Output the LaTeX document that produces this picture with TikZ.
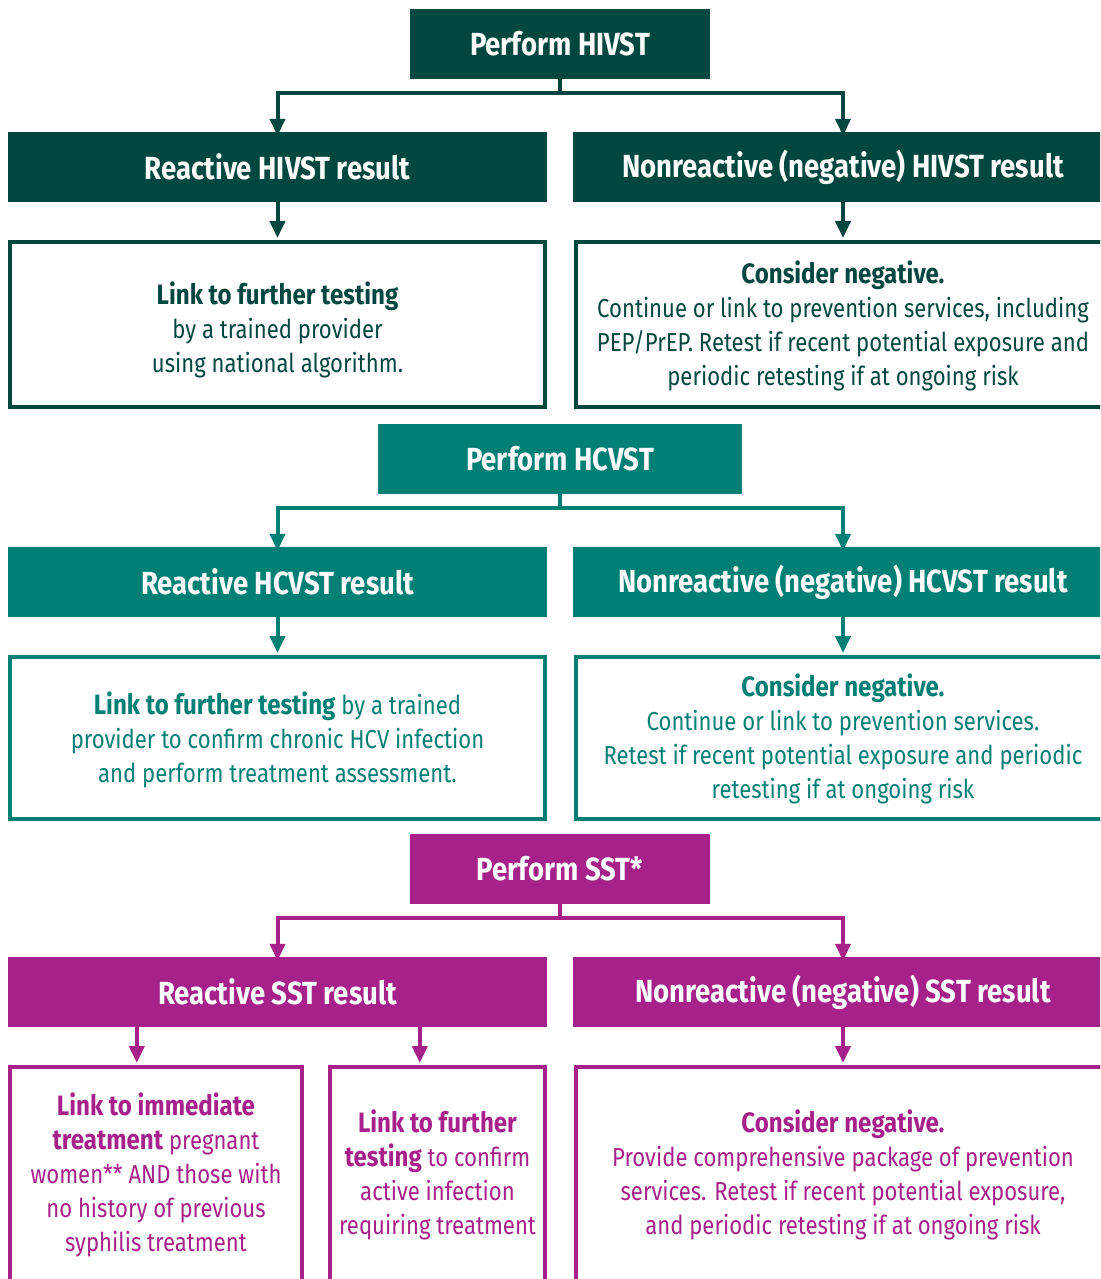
\documentclass[tikz,border=0pt]{standalone}
\usepackage{fontspec}
\setmainfont{Fira Sans}[FakeStretch=0.85,BoldFeatures={FakeStretch=0.86}]
\usetikzlibrary{arrows.meta,calc}
\definecolor{cA}{HTML}{00473F}
\definecolor{cB}{HTML}{007F75}
\definecolor{cC}{HTML}{A6218A}
\newcommand{\bb}[1]{{\fontsize{28}{34}\selectfont\bfseries #1}}
\begin{document}
\begin{tikzpicture}[x=1pt,y=-1pt,
  hdr/.style={fill=#1,text=white,font=\fontsize{32}{36}\selectfont\bfseries,minimum height=70pt,inner sep=0pt},
  obox/.style={draw=#1,line width=4pt,text=#1,font=\fontsize{26}{34}\selectfont,align=center,inner sep=0pt},
  conn/.style={draw=#1,line width=4pt},
  arr/.style={draw=#1,line width=4pt,-{Triangle[length=17pt,width=15pt]},shorten >=2pt}]
\useasboundingbox (0,0) rectangle (1100,1279);
\clip (0,0) rectangle (1100,1279);
\fill[white] (0,0) rectangle (1100,1279);
% ---------- HIV
\node[hdr=cA,minimum width=300pt] (hiv) at (560,44) {Perform HIVST};
\node[hdr=cA,minimum width=539pt] (r1) at (277.5,167) {Reactive HIVST result};
\node[hdr=cA,minimum width=540pt] (n1) at (843,167) {Nonreactive (negative) HIVST result};
\node[obox=cA,minimum width=535pt,minimum height=165pt] (l1) at (277.5,324.5)
  {\rule{0pt}{33pt}\bb{Link to further testing}\\by a trained provider\\using national algorithm.};
\node[obox=cA,minimum width=535pt,minimum height=165pt] (b1) at (843,324.5)
  {\rule{0pt}{25pt}\bb{Consider negative.}\\Continue or link to prevention services, including\\PEP/PrEP. Retest if recent potential exposure and\\periodic retesting if at ongoing risk};
\coordinate (j1) at (560,93);
\draw[conn=cA] (hiv.south) -- (j1);
\draw[arr=cA] (j1) -| ([yshift=-6pt]r1.north);
\draw[arr=cA] (j1) -| ([yshift=-6pt]n1.north);
\draw[arr=cA] (r1.south) -- (l1.north);
\draw[arr=cA] (n1.south) -- (b1.north);
% ---------- HCV
\node[hdr=cB,minimum width=364pt] (hcv) at (560,459) {Perform HCVST};
\node[hdr=cB,minimum width=539pt] (r2) at (277.5,582) {Reactive HCVST result};
\node[hdr=cB,minimum width=540pt] (n2) at (843,582) {Nonreactive (negative) HCVST result};
\node[obox=cB,minimum width=535pt,minimum height=162pt] (l2) at (277.5,738)
  {\rule{0pt}{27pt}\bb{Link to further testing} by a trained\\provider to confirm chronic HCV infection\\and perform treatment assessment.};
\node[obox=cB,minimum width=535pt,minimum height=162pt] (b2) at (843,738)
  {\rule{0pt}{25pt}\bb{Consider negative.}\\Continue or link to prevention services.\\Retest if recent potential exposure and periodic\\retesting if at ongoing risk};
\coordinate (j2) at (560,508);
\draw[conn=cB] (hcv.south) -- (j2);
\draw[arr=cB] (j2) -| ([yshift=-6pt]r2.north);
\draw[arr=cB] (j2) -| ([yshift=-6pt]n2.north);
\draw[arr=cB] (r2.south) -- (l2.north);
\draw[arr=cB] (n2.south) -- (b2.north);
% ---------- SST
\node[hdr=cC,minimum width=300pt] (sst) at (560,869) {Perform SST*};
\node[hdr=cC,minimum width=539pt] (r3) at (277.5,992) {Reactive SST result};
\node[hdr=cC,minimum width=540pt] (n3) at (843,992) {Nonreactive (negative) SST result};
\node[obox=cC,minimum width=292pt,minimum height=214pt] (l3) at (156,1174)
  {\rule{0pt}{25pt}\bb{Link to immediate}\\\bb{treatment} pregnant\\women** AND those with\\no history of previous\\syphilis treatment};
\node[obox=cC,minimum width=215pt,minimum height=214pt] (m3) at (437.5,1174)
  {\rule{0pt}{25pt}\bb{Link to further}\\\bb{testing} to confirm\\active infection\\requiring treatment};
\node[obox=cC,minimum width=535pt,minimum height=214pt] (b3) at (843,1174)
  {\rule{0pt}{25pt}\bb{Consider negative.}\\Provide comprehensive package of prevention\\services. Retest if recent potential exposure,\\and periodic retesting if at ongoing risk};
\coordinate (j3) at (560,918);
\draw[conn=cC] (sst.south) -- (j3);
\draw[arr=cC] (j3) -| ([yshift=-6pt]r3.north);
\draw[arr=cC] (j3) -| ([yshift=-6pt]n3.north);
\coordinate (s1) at ([xshift=129pt]r3.south west);
\coordinate (s2) at ([xshift=412pt]r3.south west);
\draw[arr=cC] (s1) -- (s1 |- l3.north);
\draw[arr=cC] (s2) -- (s2 |- m3.north);
\draw[arr=cC] (n3.south) -- (b3.north);
\end{tikzpicture}
\end{document}
